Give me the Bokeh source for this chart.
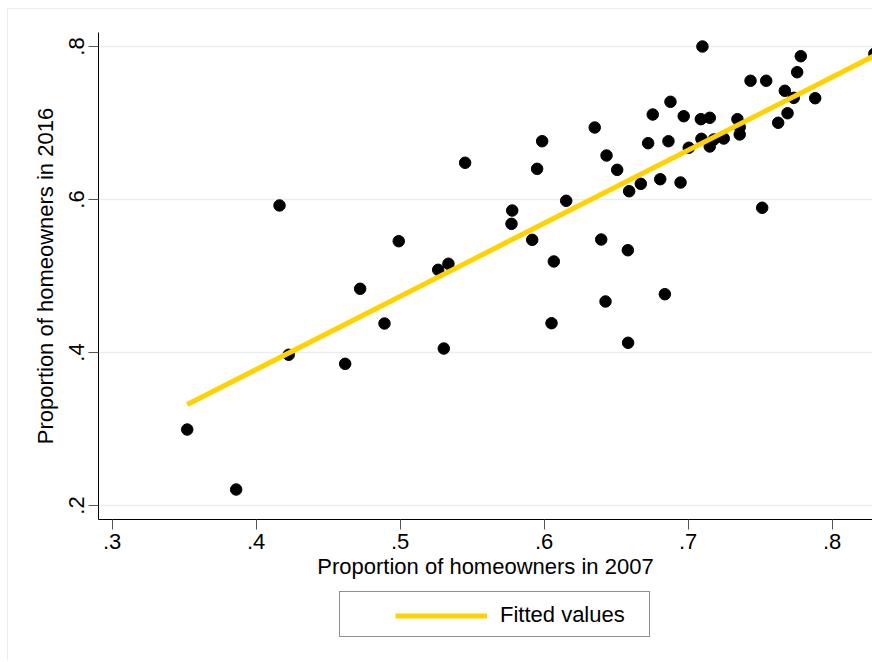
from bokeh.plotting import figure
from bokeh.models import Range1d, FixedTicker, Legend, LegendItem
from bokeh.layouts import column
from bokeh.embed import file_html
from bokeh.resources import INLINE

# Proportion of homeowners, 2007 vs 2016
x2007 = [0.3521, 0.3861, 0.4162, 0.4226, 0.4618, 0.4722, 0.4891, 0.4990, 0.5264, 0.5335,
         0.5303, 0.5451, 0.5778, 0.5773, 0.5917, 0.5951, 0.5986, 0.6067, 0.6051, 0.6153,
         0.6351, 0.6396, 0.6433, 0.6426, 0.6507, 0.6581, 0.6583, 0.6590, 0.6671, 0.6722,
         0.6754, 0.6806, 0.6838, 0.6863, 0.6877, 0.6947, 0.6969, 0.7004, 0.7099, 0.7088,
         0.7092, 0.7150, 0.7150, 0.7178, 0.7247, 0.7342, 0.7358, 0.7358, 0.7433, 0.7514,
         0.7542, 0.7625, 0.7671, 0.7690, 0.7733, 0.7757, 0.7782, 0.7882, 0.8293]
y2016 = [0.2993, 0.2209, 0.5922, 0.3970, 0.3852, 0.4833, 0.4379, 0.5455, 0.5081, 0.5160,
         0.4052, 0.6480, 0.5856, 0.5682, 0.5473, 0.6401, 0.6762, 0.5190, 0.4383, 0.5983,
         0.6941, 0.5477, 0.6575, 0.4667, 0.6388, 0.5337, 0.4127, 0.6108, 0.6205, 0.6736,
         0.7111, 0.6265, 0.4762, 0.6762, 0.7277, 0.6222, 0.7089, 0.6676, 0.8000, 0.7050,
         0.6793, 0.7068, 0.6693, 0.6784, 0.6797, 0.7050, 0.6945, 0.6850, 0.7552, 0.5892,
         0.7552, 0.7003, 0.7421, 0.7128, 0.7329, 0.7664, 0.7873, 0.7324, 0.7905]

# Fitted values (linear fit endpoints)
fit_x = [0.3521, 0.8293]
fit_y = [0.332, 0.788]

x_ticks = [0.3, 0.4, 0.5, 0.6, 0.7, 0.8]
x_tick_labels = [".3", ".4", ".5", ".6", ".7", ".8"]
y_ticks = [0.2, 0.4, 0.6, 0.8]
y_tick_labels = [".2", ".4", ".6", ".8"]

x_title = "Proportion of homeowners in 2007"
y_title = "Proportion of homeowners in 2016"
legend_label = "Fitted values"

FONT = "Liberation Sans"
GOLD = "#FFD200"

p = figure(width=872, height=590, output_backend="svg", toolbar_location=None,
           x_range=Range1d(0.2905, 0.828), y_range=Range1d(0.1817, 0.8183),
           min_border_left=98, min_border_right=0, min_border_top=32,
           min_border_bottom=71)

p.outline_line_color = None
p.background_fill_color = "white"
p.border_fill_color = None

p.xgrid.visible = False
p.ygrid.ticker = FixedTicker(ticks=y_ticks)
p.ygrid.grid_line_color = "#E6EEF1"
p.ygrid.grid_line_width = 1.5

p.xaxis.ticker = FixedTicker(ticks=x_ticks)
p.xaxis.major_label_overrides = dict(zip(x_ticks, x_tick_labels))
p.yaxis.ticker = FixedTicker(ticks=y_ticks)
p.yaxis.major_label_overrides = dict(zip(y_ticks, y_tick_labels))
p.yaxis.major_label_orientation = "vertical"

for ax in (p.xaxis, p.yaxis):
    ax.axis_line_color = "black"
    ax.axis_line_width = 1
    ax.major_tick_line_color = "#555555"
    ax.major_tick_line_width = 1
    ax.major_tick_out = 10
    ax.major_tick_in = 0
    ax.minor_tick_line_color = None
    ax.major_label_text_font = FONT
    ax.major_label_text_font_size = "22px"
    ax.major_label_text_color = "black"
    ax.major_label_standoff = 4
    ax.axis_label_text_font = FONT
    ax.axis_label_text_font_size = "22px"
    ax.axis_label_text_font_style = "normal"
    ax.axis_label_text_color = "black"
    ax.axis_label_standoff = 2
p.yaxis.axis_label_standoff = 9

p.xaxis.axis_label = x_title
p.yaxis.axis_label = y_title

p.scatter(x2007, y2016, size=11.5, fill_color="black", line_color="black")
p.line(fit_x, fit_y, line_color=GOLD, line_width=5)

# Legend strip below the plot (its frame is aligned with the main frame)
lg = figure(width=872, height=70, output_backend="svg", toolbar_location=None,
            x_range=Range1d(10, 11), y_range=Range1d(10, 11),
            x_axis_location=None, y_axis_location=None,
            min_border_left=0, min_border_right=0, min_border_top=0, min_border_bottom=0)
lg.grid.visible = False
lg.outline_line_color = None
lg.background_fill_color = None
lg.border_fill_color = None
# key renderers: the fitted line, lying outside this strip's visible range
r_key = lg.line(fit_x, fit_y, line_color=GOLD, line_width=5)
r_blank = lg.line(fit_x, fit_y, line_alpha=0)

# legend frame (box only)
legend_box = Legend(items=[LegendItem(label=legend_label, renderers=[r_blank])],
                    location=(241, 23), orientation="horizontal",
                    border_line_color="#222222", border_line_width=1.5,
                    background_fill_color="white", background_fill_alpha=1,
                    padding=9, margin=0, glyph_width=139, glyph_height=25,
                    label_height=25, label_width=139, label_text_alpha=0,
                    label_standoff=13, label_text_font=FONT, label_text_font_size="22px",
                    spacing=0)
lg.add_layout(legend_box)

# legend key and label
legend = Legend(items=[LegendItem(label=legend_label, renderers=[r_key])],
                location=(297, 32), orientation="horizontal",
                border_line_alpha=0, background_fill_alpha=0,
                padding=0, margin=0, glyph_width=92, glyph_height=25,
                label_height=25, label_standoff=13,
                label_text_font=FONT, label_text_font_size="22px",
                label_text_color="black", spacing=0)
lg.add_layout(legend)

layout = column(p, lg, spacing=0)
layout.styles = {"box-shadow": "inset 7px 8px 0 white, inset 8px 9px 0 #ececec",
                 "background": "white"}

open("out.html", "w").write(file_html(layout, INLINE))
